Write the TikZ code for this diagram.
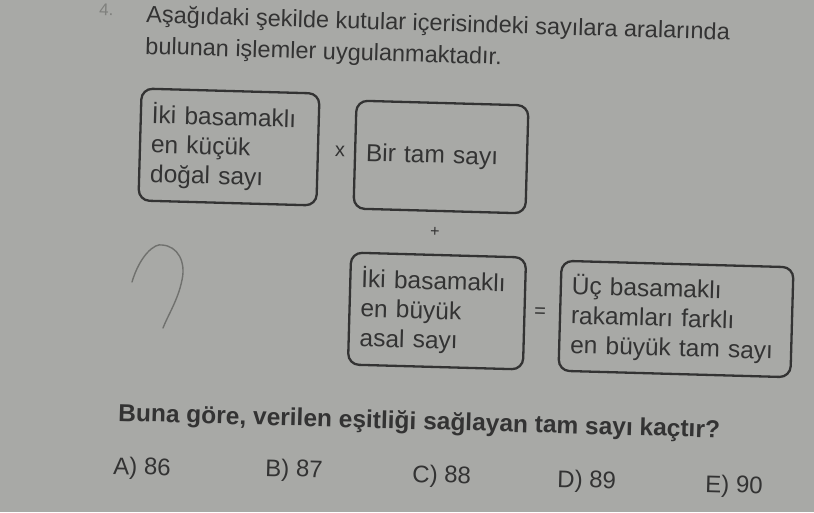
\documentclass[tikz,border=0pt]{standalone}
\usepackage{fontspec}
\setmainfont{Liberation Sans}
\usetikzlibrary{positioning}
\definecolor{paper}{HTML}{A8A9A6}
\definecolor{ink}{HTML}{333333}
\definecolor{faint}{HTML}{7F807D}
\tikzset{
    tilt/.style={rotate=-1.6},
    kutu/.style={draw=ink,line width=2.3pt,rounded corners=11pt,tilt,align=left,
        inner xsep=11pt,font=\fontsize{24.5}{29.5}\selectfont,text=ink},
    yazi/.style={tilt,text=ink,inner sep=0pt,anchor=base west,font=\fontsize{24}{28}\selectfont},
    isaret/.style={tilt,text=ink,inner sep=0pt},
}

\begin{document}
\begin{tikzpicture}[x=1pt,y=-1pt]
\fill[paper] (0,0) rectangle (814,512);
\useasboundingbox (0,0) rectangle (814,512);

% soru metni
\node[yazi,text=faint,font=\fontsize{17}{20}\selectfont] (no) at (99,15) {4.};
\node[yazi,rotate=-0.1,align=left,font=\fontsize{23.5}{31.5}\selectfont] (giris) at (145,54)
    {Aşağıdaki şekilde kutular içerisindeki sayılara aralarında\\bulunan işlemler uygulanmaktadır.};

% kutular
\node[kutu,minimum width=178pt,minimum height=112pt,text width=156pt] (enKucuk) at (229,147)
    {İki basamaklı\\en küçük\\doğal sayı};
\node[kutu,minimum width=172pt,minimum height=108pt,text width=150pt] (tamSayi) at (441,157)
    {Bir tam sayı};
\node[kutu,minimum width=175pt,minimum height=112pt,text width=153pt] (asalSayi) at (437,311)
    {İki basamaklı\\en büyük\\asal sayı};
\node[kutu,minimum width=232pt,minimum height=110pt,text width=210pt] (ucBasamak) at (676,319)
    {Üç basamaklı\\rakamları farklı\\en büyük tam sayı};

% islemler
\node[isaret,font=\fontsize{20}{24}\selectfont] (carpi) at (340,151) {x};
\node[isaret,font=\fontsize{16}{20}\selectfont] (arti) at (435,232) {+};
\node[isaret,font=\fontsize{20}{24}\selectfont] (esit) at (540,313) {=};

% kursun kalem izi
\draw[faint!80!ink,line width=1.4pt,line cap=round] (132,282) .. controls (140,255) and (155,243) .. (162,245)
    .. controls (178,246) and (186,262) .. (182,280) .. controls (178,300) and (168,315) .. (163,328);

% soru
\node[yazi,font=\bfseries\fontsize{24.5}{28}\selectfont] (soru) at (118,421)
    {Buna göre, verilen eşitliği sağlayan tam sayı kaçtır?};

% secenekler
\node[yazi] (secA) at (113,474) {A) 86};
\node[yazi] (secB) at (265,476) {B) 87};
\node[yazi] (secC) at (412,482) {C) 88};
\node[yazi] (secD) at (557,487) {D) 89};
\node[yazi] (secE) at (705,492) {E) 90};
%\draw[->] (asalSayi) -- (ucBasamak);

\end{tikzpicture}
\end{document}
